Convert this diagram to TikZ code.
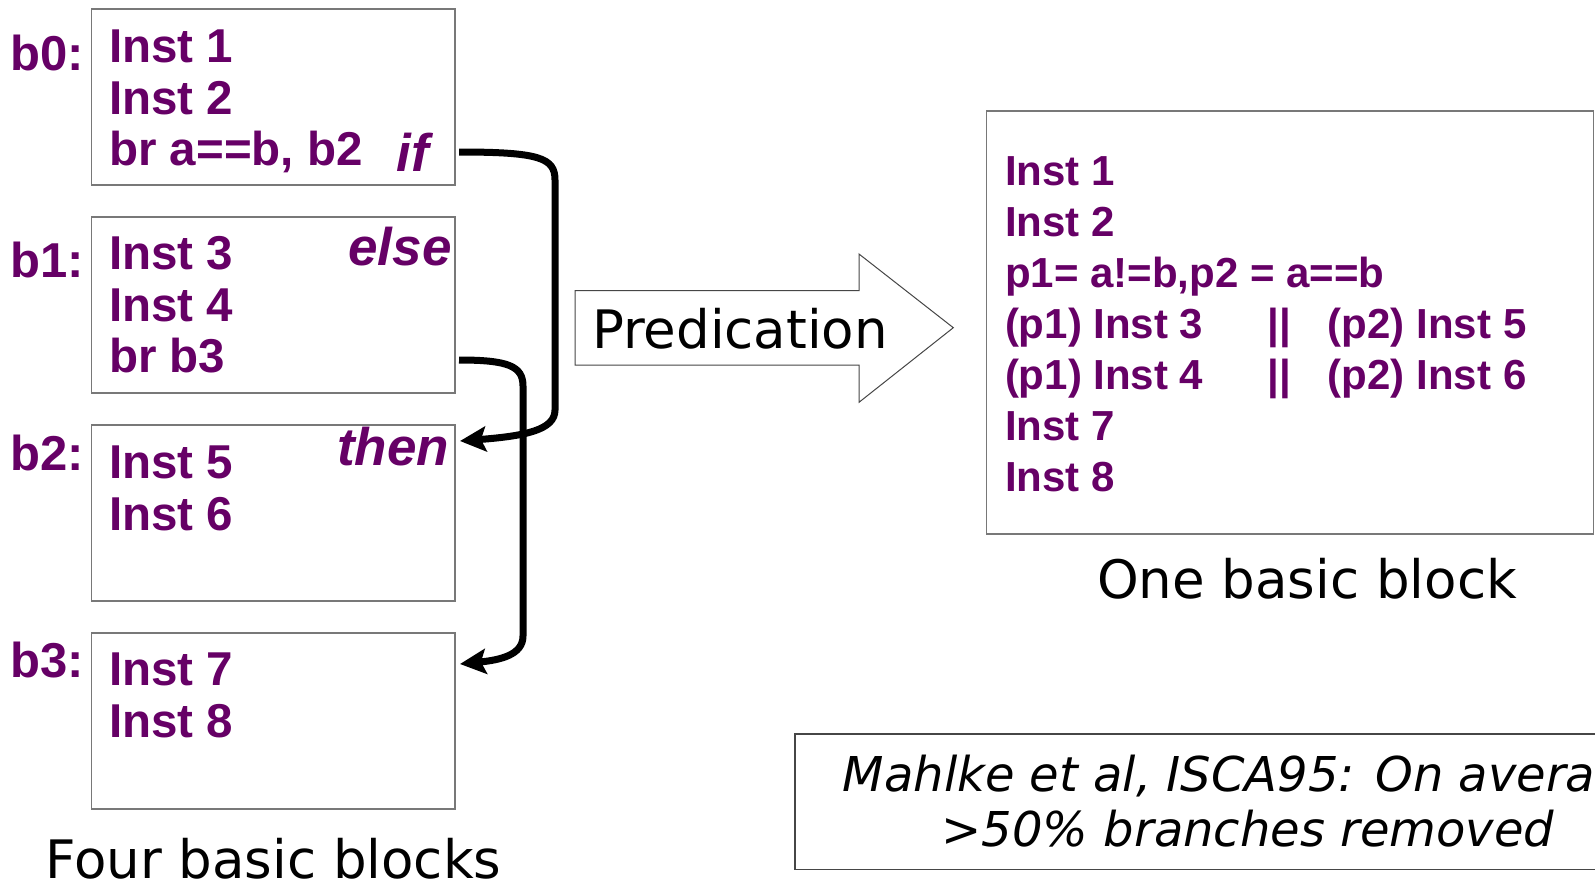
\documentclass[tikz,border=0pt]{standalone}
\usepackage{fontspec}
\setmainfont{Liberation Sans}
\newfontfamily\dvfont{DejaVu Sans}[ItalicFont={DejaVu Sans Oblique}]
\usetikzlibrary{arrows.meta}
\definecolor{instpurple}{RGB}{102,0,102}
\definecolor{boxgray}{RGB}{120,120,120}
\definecolor{arrowgray}{RGB}{70,70,70}
\begin{document}
\begin{tikzpicture}[x=0.5pt,y=-0.5pt,
  blk/.style={draw=boxgray, line width=0.75pt, inner sep=0pt, anchor=north west,
    minimum width=181.8pt, minimum height=88pt},
  inst/.style={text=instpurple, font=\fontsize{23.75pt}{26pt}\selectfont\bfseries,
    anchor=base west, inner sep=0pt},
  blbl/.style={text=instpurple, font=\fontsize{24.5pt}{26pt}\selectfont\bfseries,
    anchor=base west, inner sep=0pt},
  cond/.style={text=instpurple, font=\fontsize{26.5pt}{28pt}\selectfont\bfseries\itshape,
    inner sep=0pt},
  rinst/.style={text=instpurple, font=\fontsize{21pt}{24pt}\selectfont\bfseries,
    anchor=base west, inner sep=0pt},
  capt/.style={font=\dvfont\fontsize{26.5pt}{30pt}\selectfont, inner sep=0pt, anchor=base},
  cite/.style={font=\dvfont\itshape\fontsize{24pt}{27.5pt}\selectfont, inner sep=0pt, anchor=base},
  conn/.style={line width=3.5pt, -{Stealth[length=13pt,width=12.5pt,inset=2.5pt]}}
]
\useasboundingbox (0,0) rectangle (1595,884);
\clip (0,0) rectangle (1595,884);

% ---- left: four basic blocks ----
\node[blk] (b0) at (90.7,8) {};
\node[blk] (b1) at (90.7,216) {};
\node[blk] (b2) at (90.7,424) {};
\node[blk] (b3) at (90.7,632) {};

\node[blbl] (l0) at (10,70) {b0:};
\node[blbl] (l1) at (10,277.7) {b1:};
\node[blbl] (l2) at (10,470) {b2:};
\node[blbl] (l3) at (10,677.7) {b3:};

\node[inst] (i1) at (108.8,62.3) {Inst 1};
\node[inst] (i2) at (108.8,114.3) {Inst 2};
\node[inst] (br0) at (108.8,165.7) {br a==b, b2};
\node[cond, anchor=base west] (cif) at (396,171) {if};

\node[inst] (i3) at (108.8,269.3) {Inst 3};
\node[inst] (i4) at (108.8,321.7) {Inst 4};
\node[inst] (br1) at (108.8,372.7) {br b3};
\node[cond, anchor=base east] (celse) at (452,265.7) {else};

\node[inst] (i5) at (108.8,478.3) {Inst 5};
\node[inst] (i6) at (108.8,530) {Inst 6};
\node[cond, anchor=base east] (cthen) at (449.5,465.7) {then};

\node[inst] (i7) at (108.8,685) {Inst 7};
\node[inst] (i8) at (108.8,737.3) {Inst 8};

\node[capt] (four) at (273.4,878) {Four basic blocks};

% ---- connectors ----
\coordinate (s1) at (459,152);
\coordinate (e1) at (460,441);
\coordinate (s2) at (459,360);
\coordinate (e2) at (460,664);
\draw[conn] (s1) .. controls (540,152) and (555,158) .. (555,180)
  -- (555,410) .. controls (555,430) and (525,436) .. (e1);
\draw[conn] (s2) .. controls (508,360) and (523,366) .. (523,386)
  -- (523,636) .. controls (523,655) and (500,660) .. (e2);

% ---- predication arrow ----
\draw[draw=arrowgray, line width=0.5pt, fill=white]
  (575,290.7) -- (859,290.7) -- (859,254) -- (953.3,327.7) -- (859,402.3)
  -- (859,365) -- (575,365) -- cycle;
\node[capt] (pred) at (740,348.3) {Predication};

% ---- right: one basic block ----
\draw[draw=boxgray, line width=0.75pt] (986.7,111) rectangle (1593.3,534);
\node[rinst] (r1) at (1004.6,185) {Inst 1};
\node[rinst] (r2) at (1004.6,236) {Inst 2};
\node[rinst] (r3) at (1004.6,287.3) {p1= a!=b,p2 = a==b};
\node[rinst] (r4) at (1004.6,338.3) {\makebox[131.5pt][l]{(p1) Inst 3}\makebox[30pt][l]{||}(p2) Inst 5};
\node[rinst] (r5) at (1004.6,389.3) {\makebox[131.5pt][l]{(p1) Inst 4}\makebox[30pt][l]{||}(p2) Inst 6};
\node[rinst] (r6) at (1004.6,440.7) {Inst 7};
\node[rinst] (r7) at (1004.6,491.7) {Inst 8};
\node[capt] (one) at (1307,598) {One basic block};

% ---- citation box ----
\draw[draw=arrowgray, line width=0.75pt] (795,734) rectangle (1640,869.3);
\node[cite] (cite1) at (1249,791.7) {Mahlke et al, ISCA95: On average};
\node[cite] (cite2) at (1248,846.7) {>50\% branches removed};
\end{tikzpicture}
\end{document}
